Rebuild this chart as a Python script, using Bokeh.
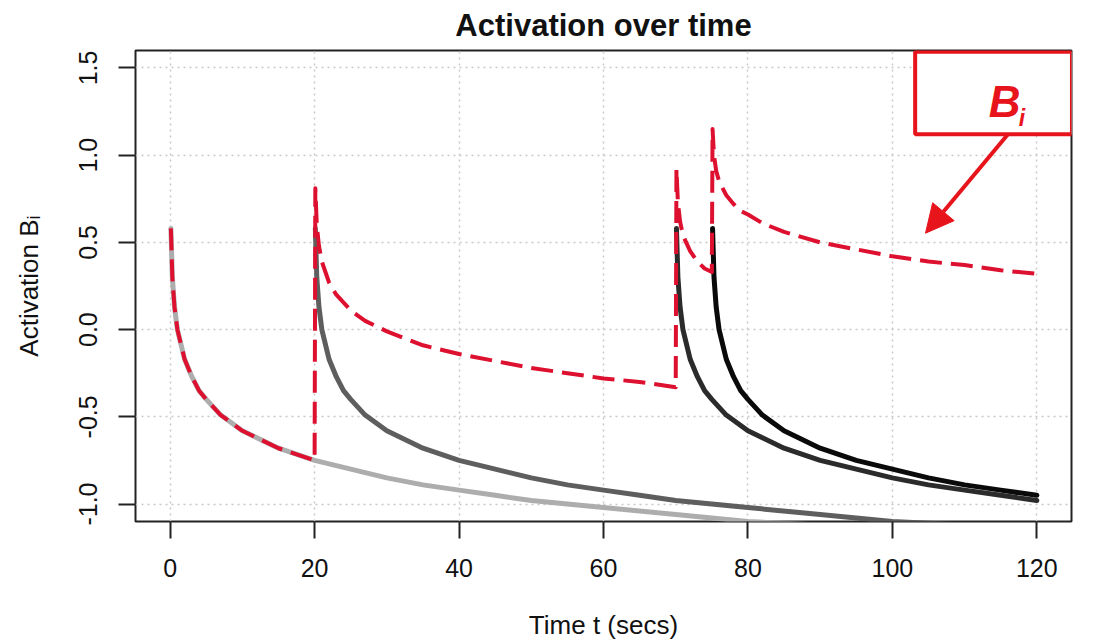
from bokeh.plotting import figure
from bokeh.models import (Range1d, FixedTicker, Label, BoxAnnotation, Arrow,
                          NormalHead, PrintfTickFormatter)
from bokeh.embed import file_html
from bokeh.resources import INLINE

# ---------------- data ----------------
x_ticks = [0, 20, 40, 60, 80, 100, 120]
y_ticks = [-1.0, -0.5, 0.0, 0.5, 1.0, 1.5]

# trace of the presentation at t = 0
trace1_t = [0.1, 0.3, 0.6, 1, 2, 3, 4, 5, 7, 10, 12, 15, 20, 25, 30, 35, 40, 45,
            50, 60, 70, 80, 90, 100, 110, 120]
trace1_b = [0.58, 0.30, 0.13, 0.00, -0.17, -0.27, -0.35, -0.40, -0.49, -0.58, -0.62,
            -0.68, -0.75, -0.80, -0.85, -0.89, -0.92, -0.95, -0.98, -1.02, -1.06,
            -1.10, -1.12, -1.15, -1.18, -1.20]

# trace of the presentation at t = 20
trace2_t = [20.1, 20.3, 20.6, 21, 22, 23, 24, 25, 27, 30, 32, 35, 40, 45, 50, 55,
            60, 65, 70, 80, 90, 100, 110, 120]
trace2_b = [0.58, 0.30, 0.13, 0.00, -0.17, -0.27, -0.35, -0.40, -0.49, -0.58, -0.62,
            -0.68, -0.75, -0.80, -0.85, -0.89, -0.92, -0.95, -0.98, -1.02, -1.06,
            -1.10, -1.12, -1.15]

# trace of the presentation at t = 70
trace3_t = [70.1, 70.3, 70.6, 71, 72, 73, 74, 75, 77, 80, 82, 85, 90, 95, 100, 105,
            110, 115, 120]
trace3_b = [0.58, 0.30, 0.13, 0.00, -0.17, -0.27, -0.35, -0.40, -0.49, -0.58, -0.62,
            -0.68, -0.75, -0.80, -0.85, -0.89, -0.92, -0.95, -0.98]

# trace of the presentation at t = 75
trace4_t = [75.1, 75.3, 75.6, 76, 77, 78, 79, 80, 82, 85, 87, 90, 95, 100, 105, 110,
            115, 120]
trace4_b = [0.58, 0.30, 0.13, 0.00, -0.17, -0.27, -0.35, -0.40, -0.49, -0.58, -0.62,
            -0.68, -0.75, -0.80, -0.85, -0.89, -0.92, -0.95]

# total activation B_i (red dashed)
total_t = [0.1, 0.3, 0.6, 1, 2, 3, 4, 5, 7, 10, 12, 15, 20,
           20.1, 20.3, 20.6, 21, 22, 23, 25, 27, 30, 35, 40, 45, 50, 55, 60, 65, 70,
           70.1, 70.3, 70.6, 71, 72, 73, 74, 75,
           75.1, 75.3, 75.6, 76, 77, 78, 79, 80, 82, 85, 90, 95, 100, 105, 110, 115, 120]
total_b = [0.58, 0.30, 0.13, 0.00, -0.17, -0.27, -0.35, -0.40, -0.49, -0.58, -0.62, -0.68, -0.75,
           0.81, 0.60, 0.48, 0.39, 0.27, 0.20, 0.11, 0.05, -0.01, -0.09, -0.14, -0.18, -0.22,
           -0.25, -0.28, -0.30, -0.33,
           0.92, 0.73, 0.62, 0.54, 0.45, 0.39, 0.35, 0.33,
           1.15, 1.00, 0.91, 0.85, 0.77, 0.72, 0.68, 0.66, 0.61, 0.56, 0.50, 0.46, 0.42,
           0.39, 0.37, 0.34, 0.32]

# ---------------- figure ----------------
FONT = "Liberation Sans"
RED = "#E8141C"
INK = "#111111"

p = figure(width=1095, height=642,
           x_range=Range1d(-4.8, 124.8), y_range=Range1d(-1.1, 1.6),
           output_backend="svg", toolbar_location=None,
           title="Activation over time",
           x_axis_label="Time t (secs)", y_axis_label="Activation B\u1d62",
           min_border_left=135, min_border_right=24,
           min_border_top=50, min_border_bottom=119)
p.background_fill_color = "white"
p.border_fill_color = "white"
p.outline_line_color = "#222222"
p.outline_line_width = 2

p.title.align = "center"
p.title.vertical_align = "top"
p.title.text_font = FONT
p.title.text_font_size = "31px"
p.title.text_font_style = "bold"
p.title.text_color = INK
p.title.standoff = 12

for ax, ticks in ((p.xaxis, x_ticks), (p.yaxis, y_ticks)):
    ax.ticker = FixedTicker(ticks=ticks)
    ax.axis_line_color = None
    ax.major_tick_out = 17
    ax.major_tick_in = 0
    ax.major_tick_line_width = 2
    ax.major_tick_line_color = "#222222"
    ax.minor_tick_line_color = None
    ax.major_label_text_font = FONT
    ax.major_label_text_font_size = "25px"
    ax.major_label_text_color = INK
    ax.axis_label_text_font = FONT
    ax.axis_label_text_font_size = "26px"
    ax.axis_label_text_font_style = "normal"
    ax.axis_label_text_color = INK

p.xaxis.major_label_standoff = 20
p.xaxis.axis_label_standoff = 30
p.yaxis.major_label_standoff = 21
p.yaxis.axis_label_standoff = 33
p.yaxis.major_label_orientation = "vertical"
p.yaxis.formatter = PrintfTickFormatter(format="%.1f")

p.xgrid.ticker = FixedTicker(ticks=x_ticks)
p.ygrid.ticker = FixedTicker(ticks=y_ticks)
for g in (p.xgrid, p.ygrid):
    g.grid_line_color = "#C8C8C8"
    g.grid_line_dash = "2 4"
    g.grid_line_width = 1.5

# traces
p.line(trace1_t, trace1_b, line_color="#ADADAD", line_width=5, line_cap="round", line_join="round")
p.line(trace2_t, trace2_b, line_color="#5E5E5E", line_width=5, line_cap="round", line_join="round")
p.line(trace3_t, trace3_b, line_color="#2B2B2B", line_width=5, line_cap="round", line_join="round")
p.line(trace4_t, trace4_b, line_color="#0A0A0A", line_width=5, line_cap="round", line_join="round")
p.line(total_t, total_b, line_color="#DD1030", line_width=4, line_dash="22 9", line_join="round")

# ---------------- callout ----------------
def px2x(px):
    return (px - 170.0) / 7.2

def py2y(py):
    return (330.7 - py) / 175.0

p.add_layout(BoxAnnotation(left=px2x(912.7), right=px2x(1069), bottom=py2y(134.7),
                           top=py2y(52), fill_color="white", fill_alpha=1.0,
                           line_color=RED, line_alpha=1.0, line_width=4))
p.add_layout(Arrow(end=NormalHead(size=28, fill_color=RED, line_color=RED, line_width=1),
                   x_start=px2x(1005), y_start=py2y(135), x_end=px2x(923), y_end=py2y(234),
                   line_color=RED, line_width=4))
p.add_layout(Label(x=px2x(986), y=py2y(102), text="B", text_font=FONT,
                   text_font_size="44px", text_font_style="bold italic", text_align="left",
                   text_baseline="alphabetic", text_color=RED))
p.add_layout(Label(x=px2x(1016), y=py2y(118), text="i", text_font=FONT,
                   text_font_size="23px", text_font_style="bold italic", text_align="left",
                   text_baseline="alphabetic", text_color=RED))

open("out.html", "w").write(file_html(p, INLINE))
